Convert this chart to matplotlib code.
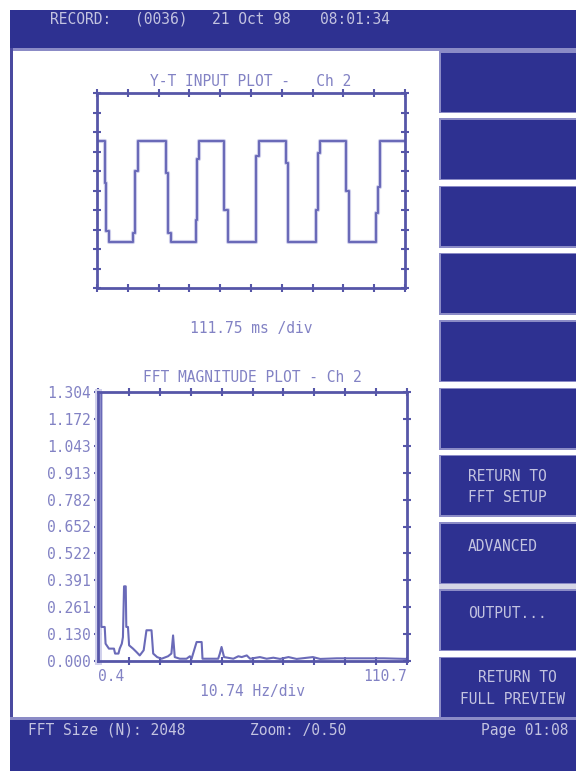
import numpy as np
import matplotlib
matplotlib.use("Agg")
import matplotlib.pyplot as plt
from matplotlib.patches import Rectangle

# ---------------- data ----------------
# Y-T input trace (time in ms, level in divisions), held until next sample
yt_time_ms = [0, 28, 32, 42, 130, 137, 150, 251, 259, 267, 359, 364, 371,
              462, 476, 577, 586, 686, 693, 796, 801, 808, 905, 914,
              1011, 1019, 1026, 1117.5]
yt_level = [7.56, 5.4, 2.9, 2.34, 2.8, 6.0, 7.56, 5.9, 2.8, 2.34, 3.5, 6.6, 7.56,
            4.0, 2.34, 6.75, 7.56, 6.4, 2.34, 4.0, 6.9, 7.56, 5.0, 2.34,
            3.85, 5.2, 7.56, 7.56]

# FFT magnitude trace
fft_freq = [0.4, 1.6, 1.6, 1.95, 2.8, 3.1, 4.3, 6.1, 6.5, 7.7, 8.15, 8.9, 9.3,
            9.7, 10.3, 10.5, 11.1, 11.5, 12.9, 14.1, 15.3, 16.7, 17.7, 19.5,
            20.1, 21.5, 23.1, 25.4, 26.6, 27.2, 27.8, 29.6, 32.0, 33.2, 33.8,
            35.6, 37.4, 37.7, 43.3, 43.9, 44.5, 45.4, 48.7, 50.5, 51.7, 53.5,
            54.7, 58.2, 60.6, 63.0, 65.4, 68.4, 71.3, 77.1, 79.7, 85.7, 94.0,
            102.4, 110.7]
fft_mag = [1.304, 1.304, 0.165, 0.165, 0.165, 0.084, 0.060, 0.060, 0.036, 0.036,
           0.060, 0.084, 0.116, 0.362, 0.362, 0.165, 0.165, 0.076, 0.060, 0.044,
           0.027, 0.052, 0.149, 0.149, 0.036, 0.019, 0.011, 0.023, 0.036, 0.124,
           0.019, 0.011, 0.011, 0.023, 0.011, 0.092, 0.092, 0.011, 0.011, 0.036,
           0.068, 0.019, 0.011, 0.023, 0.019, 0.027, 0.011, 0.019, 0.011, 0.016,
           0.010, 0.019, 0.010, 0.019, 0.010, 0.013, 0.013, 0.013, 0.010]

fft_ytick_labels = ["0.000", "0.130", "0.261", "0.391", "0.522", "0.652",
                    "0.782", "0.913", "1.043", "1.172", "1.304"]
fft_xtick_labels = ["0.4", "110.7"]

header_parts = ["RECORD:", "(0036)", "21 Oct 98", "08:01:34"]
footer_parts = ["FFT Size (N): 2048", "Zoom: /0.50", "Page 01:08"]
button_labels = ["", "", "", "", "", "", "RETURN TO\nFFT SETUP", "ADVANCED",
                 "OUTPUT...", "RETURN TO\nFULL PREVIEW"]

# ---------------- style ----------------
NAVY = "#2e3191"
EDGE = "#8b8bc6"
BANNER_TXT = "#c3c3e0"
TRACE = "#6a6ab8"
HALO = "#d0d0ec"
SPINE = "#5656a8"
LABEL = "#8282c4"
MONO = "DejaVu Sans Mono"

W, H = 576, 771
fig = plt.figure(figsize=(W / 100, H / 100), dpi=100)
fig.patch.set_facecolor("white")

bg = fig.add_axes([0, 0, 1, 1])
bg.set_xlim(0, W)
bg.set_ylim(H, 0)
bg.axis("off")

# header banner
bg.add_patch(Rectangle((10, 10), W - 10, 38, color=NAVY, lw=0))
bg.add_patch(Rectangle((10, 48), W - 10, 3, color=EDGE, lw=0))
# left strip
bg.add_patch(Rectangle((10, 48), 2.5, 672, color="#4a4aa0", lw=0))
# footer bar
bg.add_patch(Rectangle((10, 717), W - 10, 3, color=EDGE, lw=0))
bg.add_patch(Rectangle((10, 720), W - 10, 51, color=NAVY, lw=0))

hx = [50, 135, 212, 320]
for x, s in zip(hx, header_parts):
    bg.text(x, 19, s, color=BANNER_TXT, fontsize=10.5, family=MONO,
            va="center", ha="left")

fx = [28, 250, 481]
for x, s in zip(fx, footer_parts):
    bg.text(x, 730, s, color=BANNER_TXT, fontsize=10.5, family=MONO,
            va="center", ha="left")

# buttons
btn_top0, btn_step, btn_h = 51, 67.3, 62
for i, lab in enumerate(button_labels):
    top = btn_top0 + i * btn_step
    bg.add_patch(Rectangle((439, top), W - 439, btn_h, color=NAVY, lw=0))
    bg.add_patch(Rectangle((439, top), W - 439, 1.5, color=EDGE, lw=0))
    bg.add_patch(Rectangle((439, top + btn_h - 1.5), W - 439, 1.5, color=EDGE, lw=0))
    bg.add_patch(Rectangle((439, top), 1.5, btn_h, color=EDGE, lw=0))
    if lab:
        lines = lab.split("\n")
        if i == 9:
            bg.text(478, top + 21, lines[0], color=BANNER_TXT, fontsize=10.5,
                    family=MONO, va="center", ha="left")
            bg.text(460, top + 43, lines[1], color=BANNER_TXT, fontsize=10.5,
                    family=MONO, va="center", ha="left", clip_on=False)
        elif len(lines) == 2:
            bg.text(468, top + 22, lines[0], color=BANNER_TXT, fontsize=10.5,
                    family=MONO, va="center", ha="left")
            bg.text(468, top + 43, lines[1], color=BANNER_TXT, fontsize=10.5,
                    family=MONO, va="center", ha="left")
        else:
            bg.text(468, top + 24, lines[0], color=BANNER_TXT, fontsize=10.5,
                    family=MONO, va="center", ha="left")
# light gray separator between buttons 8 and 9
sep_top = btn_top0 + 7 * btn_step + btn_h
bg.add_patch(Rectangle((439, sep_top), W - 439, btn_step - btn_h, color="#d6d6e6", lw=0))


def style_axes(ax):
    for sp in ax.spines.values():
        sp.set_color(SPINE)
        sp.set_linewidth(2)
    ax.tick_params(which="both", direction="inout", length=6, width=1.5,
                   color=SPINE, top=True, right=True, labelcolor=LABEL,
                   labelsize=10.5)
    for lab in ax.get_xticklabels() + ax.get_yticklabels():
        lab.set_family(MONO)


# ---------------- Y-T plot ----------------
ax1 = fig.add_axes([97 / W, 1 - 288 / H, 308 / W, 195 / H])
ax1.plot(yt_time_ms, yt_level, drawstyle="steps-post", color=HALO, lw=3,
         solid_capstyle="butt")
ax1.plot(yt_time_ms, yt_level, drawstyle="steps-post", color=TRACE, lw=1.5)
ax1.set_xlim(0, 1117.5)
ax1.set_ylim(0, 10)
ax1.set_xticks(np.arange(11) * 111.75)
ax1.set_yticks(np.arange(11))
ax1.set_xticklabels([])
ax1.set_yticklabels([])
style_axes(ax1)
ax1.set_title("Y-T INPUT PLOT -   Ch 2", color=LABEL, fontsize=10.5,
              family=MONO, pad=5)
ax1.set_xlabel("111.75 ms /div", color=LABEL, fontsize=10.5, family=MONO,
               labelpad=17)

# ---------------- FFT plot ----------------
ax2 = fig.add_axes([98 / W, 1 - 661 / H, 309 / W, 269 / H])
ax2.plot([fft_freq[0], fft_freq[0]], [0, fft_mag[0]], color=HALO, lw=5,
         clip_on=False)
ax2.plot(fft_freq, fft_mag, color=TRACE, lw=1.5)
ax2.set_xlim(0.4, 110.7)
ax2.set_ylim(0, 1.304)
xt = np.linspace(0.4, 110.7, 11)
ax2.set_xticks(xt)
ax2.set_xticklabels([fft_xtick_labels[0]] + [""] * 9 + [fft_xtick_labels[1]])
ax2.set_yticks(np.linspace(0, 1.304, 11))
ax2.set_yticklabels(fft_ytick_labels)
style_axes(ax2)
ax2.tick_params(axis="x", pad=3)
ax2.tick_params(axis="y", pad=2)
tl = ax2.get_xticklabels()
tl[0].set_ha("left")
tl[-1].set_ha("right")
ax2.set_title("FFT MAGNITUDE PLOT - Ch 2", color=LABEL, fontsize=10.5,
              family=MONO, pad=7)
ax2.set_xlabel("10.74 Hz/div", color=LABEL, fontsize=10.5, family=MONO,
               labelpad=0)

fig.savefig("out.png", dpi=100, facecolor="white")
